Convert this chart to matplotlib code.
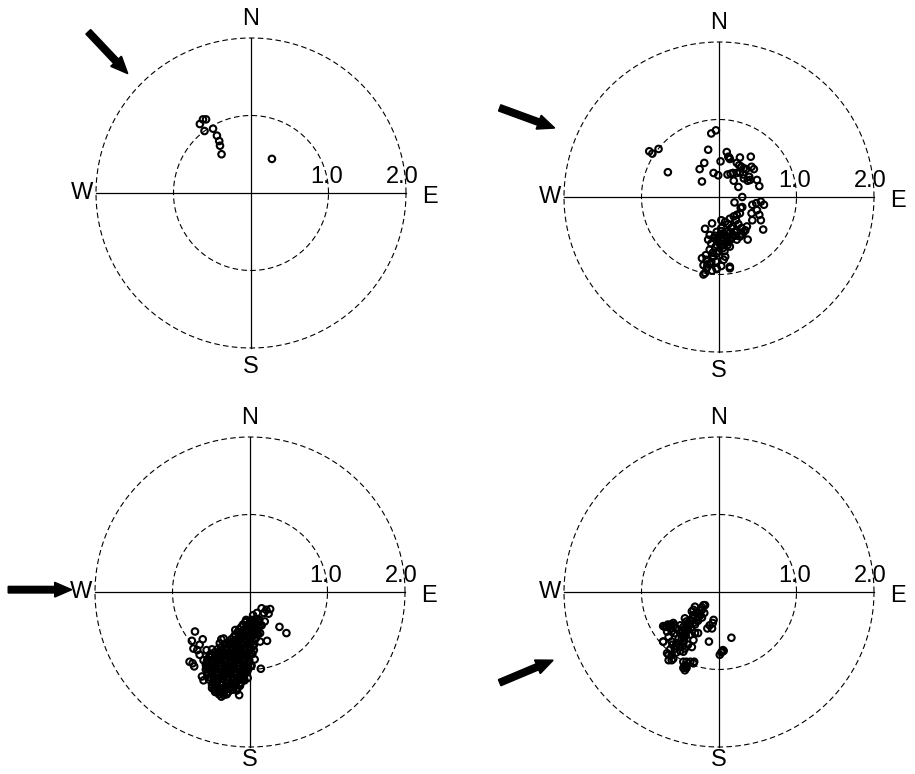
import matplotlib
matplotlib.use("Agg")
import numpy as np
import matplotlib.pyplot as plt

plt.rcParams['font.family'] = ['Liberation Sans', 'DejaVu Sans']

# wind vectors (east, north) for each of the four periods
pts_a = [(-0.62, 0.95), (-0.58, 0.95), (-0.66, 0.89), (-0.60, 0.80), (-0.49, 0.83),
         (-0.44, 0.74), (-0.41, 0.67), (-0.40, 0.61), (-0.38, 0.50), (0.27, 0.44)]

pts_b = [(-0.10, 0.82), (-0.04, 0.86), (-0.90, 0.59), (-0.86, 0.56), (-0.78, 0.62),
         (-0.66, 0.32), (-0.14, 0.61), (-0.19, 0.44), (-0.25, 0.36), (-0.22, 0.20),
         (-0.07, 0.31), (-0.01, 0.28), (0.02, 0.46), (0.10, 0.58), (0.12, 0.52),
         (0.14, 0.49), (0.13, 0.51), (0.27, 0.51), (0.41, 0.52), (0.23, 0.44),
         (0.26, 0.41), (0.29, 0.39), (0.32, 0.37), (0.35, 0.36), (0.42, 0.39),
         (0.45, 0.36), (0.11, 0.29), (0.15, 0.30), (0.18, 0.31), (0.23, 0.31),
         (0.27, 0.32), (0.31, 0.29), (0.32, 0.24), (0.39, 0.26), (0.40, 0.22),
         (0.49, 0.22), (0.19, 0.21), (0.25, 0.13), (0.52, 0.14), (0.37, 0.21),
         (0.30, 0.00), (0.20, -0.07), (0.28, -0.14), (0.30, -0.13), (0.43, -0.10),
         (0.48, -0.08), (0.54, -0.06), (0.58, -0.10), (0.49, -0.17), (0.42, -0.21),
         (0.52, -0.23), (0.54, -0.30), (0.43, -0.30), (0.57, -0.42), (0.37, -0.55),
         (-0.18, -0.41), (-0.09, -0.34), (0.03, -0.30), (0.08, -0.32), (0.14, -0.28),
         (0.19, -0.25), (0.23, -0.23), (0.27, -0.21), (0.01, -0.49), (0.06, -0.53),
         (-0.01, -0.58), (0.10, -0.45), (0.16, -0.40), (0.23, -0.43), (0.29, -0.40),
         (0.34, -0.43), (0.36, -0.38), (0.18, -0.49), (0.12, -0.58), (0.06, -0.62),
         (-0.03, -0.62), (-0.07, -0.53), (-0.12, -0.49), (-0.14, -0.55), (0.14, -0.64),
         (0.23, -0.55), (0.27, -0.51), (0.03, -0.40), (-0.03, -0.45), (0.05, -0.47),
         (0.10, -0.52), (0.00, -0.52), (0.15, -0.55), (0.20, -0.45), (0.08, -0.60),
         (-0.05, -0.65), (0.00, -0.70), (0.05, -0.66), (-0.10, -0.60), (0.25, -0.35),
         (0.32, -0.45), (0.12, -0.35), (0.22, -0.30), (-0.12, -0.68), (-0.17, -0.75),
         (-0.22, -0.79), (-0.16, -0.81), (-0.07, -0.77), (-0.03, -0.73), (-0.20, -0.88),
         (-0.16, -0.92), (-0.18, -0.98), (-0.12, -0.86), (-0.04, -0.83), (0.06, -0.81),
         (0.08, -0.77), (0.03, -0.89), (-0.03, -0.92), (0.14, -0.90), (-0.09, -0.95),
         (-0.20, -1.00), (-0.03, -0.93), (0.14, -0.92),
         (0.03, -0.44), (0.08, -0.49), (0.13, -0.47), (0.04, -0.56), (0.10, -0.57),
         (-0.03, -0.55), (0.16, -0.52), (0.21, -0.50), (-0.05, -0.50), (0.02, -0.63),
         (0.07, -0.70), (-0.08, -0.72), (0.11, -0.62), (0.18, -0.38), (0.30, -0.48),
         (-0.10, -0.84), (-0.15, -0.87)]

pts_c = [(0.15, -0.21), (0.21, -0.23), (0.26, -0.22), (0.24, -0.28), (0.18, -0.27),
         (0.09, -0.27), (0.04, -0.30), (0.11, -0.36), (0.02, -0.36), (0.19, -0.38),
         (0.15, -0.43), (0.06, -0.40), (-0.05, -0.38), (-0.04, -0.45), (0.13, -0.53),
         (0.38, -0.45), (0.47, -0.53), (0.22, -0.63), (0.13, -0.64), (0.06, -0.87),
         (0.14, -0.99), (0.01, -0.96), (0.02, -0.95),
         (-0.71, -0.51), (-0.75, -0.63), (-0.61, -0.61), (-0.65, -0.68), (-0.73, -0.73),
         (-0.68, -0.75), (-0.56, -0.75), (-0.49, -0.74), (-0.78, -0.90), (-0.74, -0.92),
         (-0.72, -0.96), (-0.60, -0.88), (-0.65, -0.81), (-0.52, -0.81), (-0.37, -0.61),
         (-0.39, -0.66), (-0.34, -0.60), (-0.19, -0.49), (-0.26, -0.68), (-0.62, -1.09),
         (-0.60, -1.14), (-0.49, -1.24), (-0.45, -1.29), (-0.37, -1.35), (-0.34, -1.24),
         (-0.13, -1.20), (-0.14, -1.33), (-0.09, -1.14), (-0.03, -1.11),
         # dense core
         (-0.05, -0.36), (0.01, -0.37), (0.07, -0.35), (0.12, -0.36),
         (-0.09, -0.42), (-0.03, -0.43), (0.03, -0.42), (0.09, -0.41), (0.13, -0.43),
         (-0.14, -0.48), (-0.08, -0.49), (-0.02, -0.48), (0.04, -0.47), (0.10, -0.49),
         (-0.19, -0.55), (-0.13, -0.54), (-0.07, -0.55), (-0.01, -0.56), (0.05, -0.55), (0.10, -0.54),
         (-0.24, -0.61), (-0.18, -0.62), (-0.12, -0.61), (-0.06, -0.60), (0.00, -0.61), (0.06, -0.62),
         (-0.32, -0.68), (-0.26, -0.67), (-0.20, -0.68), (-0.14, -0.69), (-0.08, -0.68),
         (-0.02, -0.67), (0.05, -0.68),
         (-0.42, -0.74), (-0.36, -0.75), (-0.30, -0.74), (-0.24, -0.73), (-0.18, -0.74),
         (-0.12, -0.75), (-0.06, -0.74), (0.00, -0.73), (0.05, -0.75),
         (-0.49, -0.81), (-0.43, -0.80), (-0.37, -0.81), (-0.31, -0.82), (-0.25, -0.81),
         (-0.19, -0.80), (-0.13, -0.81), (-0.07, -0.82), (-0.01, -0.81), (0.03, -0.80),
         (-0.55, -0.87), (-0.49, -0.88), (-0.43, -0.87), (-0.37, -0.86), (-0.31, -0.87),
         (-0.25, -0.88), (-0.19, -0.87), (-0.13, -0.86), (-0.07, -0.87), (-0.01, -0.88),
         (-0.57, -0.94), (-0.51, -0.93), (-0.45, -0.94), (-0.39, -0.95), (-0.33, -0.94),
         (-0.27, -0.93), (-0.21, -0.94), (-0.15, -0.95), (-0.09, -0.94), (-0.03, -0.93),
         (-0.57, -1.00), (-0.51, -1.01), (-0.45, -1.00), (-0.39, -0.99), (-0.33, -1.00),
         (-0.27, -1.01), (-0.21, -1.00), (-0.15, -0.99), (-0.09, -1.00), (-0.03, -1.01),
         (-0.55, -1.07), (-0.49, -1.06), (-0.43, -1.07), (-0.37, -1.08), (-0.31, -1.07),
         (-0.25, -1.06), (-0.19, -1.07), (-0.13, -1.08), (-0.07, -1.07),
         (-0.53, -1.13), (-0.47, -1.14), (-0.41, -1.13), (-0.35, -1.12), (-0.29, -1.13),
         (-0.23, -1.14), (-0.17, -1.13), (-0.11, -1.12), (-0.07, -1.14),
         (-0.49, -1.20), (-0.43, -1.19), (-0.37, -1.20), (-0.31, -1.21), (-0.25, -1.20),
         (-0.19, -1.19), (-0.13, -1.21),
         (-0.46, -1.26), (-0.40, -1.27), (-0.34, -1.26), (-0.28, -1.25), (-0.22, -1.26),
         (-0.17, -1.27), (-0.40, -1.32), (-0.34, -1.33), (-0.30, -1.32),
         (-0.06, -0.39), (0.00, -0.39), (0.06, -0.38), (0.11, -0.39),
         (-0.11, -0.45), (-0.05, -0.46), (0.01, -0.45), (0.07, -0.44), (0.11, -0.46),
         (-0.16, -0.52), (-0.10, -0.51), (-0.04, -0.52), (0.02, -0.51), (0.08, -0.52),
         (-0.21, -0.58), (-0.15, -0.59), (-0.09, -0.58), (-0.03, -0.57), (0.03, -0.58), (0.08, -0.59),
         (-0.28, -0.65), (-0.22, -0.64), (-0.16, -0.65), (-0.10, -0.66), (-0.04, -0.64), (0.02, -0.65),
         (-0.37, -0.71), (-0.31, -0.72), (-0.25, -0.71), (-0.19, -0.70), (-0.13, -0.71),
         (-0.07, -0.72), (-0.01, -0.71), (0.04, -0.70),
         (-0.46, -0.78), (-0.40, -0.77), (-0.34, -0.78), (-0.28, -0.79), (-0.22, -0.78),
         (-0.16, -0.77), (-0.10, -0.78), (-0.04, -0.79), (0.02, -0.78),
         (-0.52, -0.84), (-0.46, -0.85), (-0.40, -0.84), (-0.34, -0.83), (-0.28, -0.84),
         (-0.22, -0.85), (-0.16, -0.84), (-0.10, -0.83), (-0.04, -0.84),
         (-0.56, -0.91), (-0.50, -0.90), (-0.44, -0.91), (-0.38, -0.92), (-0.32, -0.91),
         (-0.26, -0.90), (-0.20, -0.91), (-0.14, -0.92), (-0.08, -0.91), (-0.02, -0.90),
         (-0.56, -0.97), (-0.50, -0.98), (-0.44, -0.97), (-0.38, -0.96), (-0.32, -0.97),
         (-0.26, -0.98), (-0.20, -0.97), (-0.14, -0.96), (-0.08, -0.97), (-0.02, -0.98),
         (-0.54, -1.04), (-0.48, -1.03), (-0.42, -1.04), (-0.36, -1.05), (-0.30, -1.04),
         (-0.24, -1.03), (-0.18, -1.04), (-0.12, -1.05), (-0.06, -1.04),
         (-0.52, -1.10), (-0.46, -1.11), (-0.40, -1.10), (-0.34, -1.09), (-0.28, -1.10),
         (-0.22, -1.11), (-0.16, -1.10), (-0.10, -1.09),
         (-0.48, -1.17), (-0.42, -1.16), (-0.36, -1.17), (-0.30, -1.18), (-0.24, -1.17),
         (-0.18, -1.16), (-0.12, -1.17),
         (-0.45, -1.23), (-0.39, -1.24), (-0.33, -1.23), (-0.27, -1.22), (-0.21, -1.23),
         (-0.16, -1.24), (-0.40, -1.29), (-0.34, -1.30), (-0.28, -1.29)]

pts_d = [(-0.18, -0.17), (-0.22, -0.20), (-0.31, -0.19), (-0.25, -0.27), (-0.19, -0.27),
         (-0.35, -0.25), (-0.33, -0.30), (-0.27, -0.32), (-0.22, -0.33), (-0.29, -0.36),
         (-0.37, -0.36), (-0.42, -0.38), (-0.44, -0.34), (-0.40, -0.40), (-0.33, -0.40),
         (-0.46, -0.45), (-0.50, -0.43), (-0.59, -0.40), (-0.63, -0.43), (-0.68, -0.45),
         (-0.72, -0.44), (-0.67, -0.51), (-0.61, -0.51), (-0.55, -0.47), (-0.48, -0.49),
         (-0.44, -0.51), (-0.40, -0.49), (-0.37, -0.55), (-0.31, -0.53), (-0.27, -0.53),
         (-0.33, -0.62), (-0.46, -0.58), (-0.50, -0.53), (-0.57, -0.53), (-0.65, -0.58),
         (-0.72, -0.64), (-0.61, -0.64), (-0.55, -0.66), (-0.46, -0.66), (-0.50, -0.71),
         (-0.57, -0.73), (-0.63, -0.74), (-0.67, -0.79), (-0.61, -0.81), (-0.59, -0.86),
         (-0.65, -0.81), (-0.46, -0.77), (-0.44, -0.73), (-0.40, -0.68), (-0.35, -0.71),
         (-0.15, -0.47), (-0.09, -0.47), (-0.07, -0.36), (-0.08, -0.40), (-0.12, -0.43),
         (-0.13, -0.64), (0.16, -0.59), (0.06, -0.76), (0.03, -0.78), (0.01, -0.81),
         (0.05, -0.75), (0.04, -0.77),
         (-0.46, -0.90), (-0.42, -0.90), (-0.37, -0.90), (-0.32, -0.90), (-0.44, -0.95),
         (-0.46, -0.98), (-0.42, -0.98), (-0.44, -1.01), (-0.42, -0.96), (-0.33, -0.92),
         (-0.65, -0.88), (-0.61, -0.88), (-0.72, -0.64), (-0.70, -0.45),
         (-0.20, -0.17), (-0.22, -0.23), (-0.29, -0.27), (-0.33, -0.23),
         (-0.36, -0.38), (-0.38, -0.42), (-0.42, -0.44), (-0.34, -0.34), (-0.62, -0.42),
         (-0.65, -0.45), (-0.58, -0.43), (-0.40, -0.46), (-0.47, -0.52), (-0.52, -0.60),
         (-0.45, -0.62), (-0.55, -0.70), (-0.60, -0.68), (-0.50, -0.76), (-0.55, -0.78),
         (-0.24, -0.30), (-0.27, -0.37), (-0.31, -0.42), (-0.36, -0.46), (-0.62, -0.47),
         (-0.66, -0.42), (-0.48, -0.60), (-0.43, -0.56)]

panels = [pts_a, pts_b, pts_c, pts_d]
centers = [(251, 193), (719, 197), (250, 592), (719, 592)]   # pixel centres
arrows = [((-2.10, 2.08), (-1.59, 1.54)),
          ((-2.83, 1.15), (-2.12, 0.89)),
          ((-3.12, 0.03), (-2.30, 0.03)),
          ((-2.83, -1.17), (-2.14, -0.88))]
south_y = [-2.24, -2.24, -2.17, -2.17]

W, H = 915, 774
S = 77.5     # pixels per unit speed
L = 3.3

fig = plt.figure(figsize=(W / 100, H / 100), dpi=100)

for pts, (cx, cy), (tail, tip), sy in zip(panels, centers, arrows, south_y):
    ax = fig.add_axes([(cx - L * S) / W, 1 - (cy + L * S) / H, 2 * L * S / W, 2 * L * S / H])
    ax.set_xlim(-L, L)
    ax.set_ylim(-L, L)
    ax.axis('off')

    t = np.linspace(0, 2 * np.pi, 400)
    for r in (1.0, 2.0):
        ax.plot(r * np.cos(t), r * np.sin(t), color='black', lw=0.8, ls=(0, (5, 3)))
    ax.plot([-2, 2], [0, 0], color='black', lw=0.9)
    ax.plot([0, 0], [-2, 2], color='black', lw=0.9)

    ax.text(0, 2.25, 'N', ha='center', va='center', fontsize=17)
    ax.text(0, sy, 'S', ha='center', va='center', fontsize=17)
    ax.text(-2.18, 0, 'W', ha='center', va='center', fontsize=17)
    ax.text(2.31, -0.05, 'E', ha='center', va='center', fontsize=17)
    ax.text(0.98, 0.07, '1.0', ha='center', va='bottom', fontsize=17)
    ax.text(1.95, 0.07, '2.0', ha='center', va='bottom', fontsize=17)

    # hollow rings so that overlapping points build up into solid patches
    xs = [p[0] for p in pts]
    ys = [p[1] for p in pts]
    ax.scatter(xs, ys, s=22, facecolors='none', edgecolors='black', linewidths=1.5, zorder=3)

    ax.arrow(tail[0], tail[1], tip[0] - tail[0], tip[1] - tail[1], width=0.085,
             head_width=0.19, head_length=0.22, length_includes_head=True,
             fc='black', ec='black', clip_on=False)

fig.savefig('out.png', dpi=100)
